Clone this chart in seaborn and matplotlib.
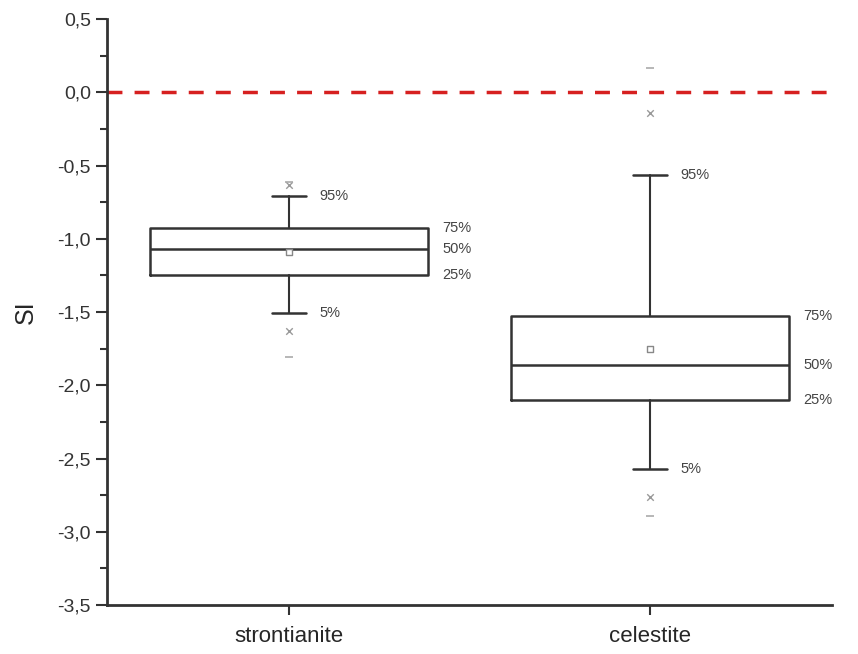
import seaborn as sns
import pandas as pd
import matplotlib.pyplot as plt

# Summary statistics (SI values)
minerals = ['strontianite', 'celestite']
p5 = [-1.51, -2.57]
p25 = [-1.25, -2.10]
p50 = [-1.07, -1.86]
p75 = [-0.925, -1.53]
p95 = [-0.71, -0.565]
means = [-1.09, -1.75]
p1 = [-1.63, -2.76]
p99 = [-0.63, -0.14]
mins = [-1.81, -2.89]
maxs = [-0.61, 0.165]

ytick_values = [0.5, 0.0, -0.5, -1.0, -1.5, -2.0, -2.5, -3.0, -3.5]
ytick_labels = ['0,5', '0,0', '-0,5', '-1,0', '-1,5', '-2,0', '-2,5', '-3,0', '-3,5']


def make_plot():
    sns.set_style("ticks")
    plt.rcParams['font.family'] = ['Liberation Sans', 'DejaVu Sans']

    fig = plt.figure(figsize=(8.58, 6.54), dpi=100)
    ax = fig.add_axes([0.1247, 0.0749, 0.845, 0.896])

    positions = list(range(len(minerals)))
    stats = []
    for i, name in enumerate(minerals):
        stats.append({'label': name, 'whislo': p5[i], 'q1': p25[i], 'med': p50[i],
                      'q3': p75[i], 'whishi': p95[i], 'mean': means[i], 'fliers': []})

    ax.bxp(stats, positions=positions, widths=0.77, showfliers=False, showmeans=False,
           boxprops=dict(color='#333333', linewidth=1.8),
           medianprops=dict(color='#333333', linewidth=1.8),
           whiskerprops=dict(color='#333333', linewidth=1.5),
           capprops=dict(color='#333333', linewidth=1.8),
           capwidths=0.095)

    df = pd.DataFrame({'x': positions, 'mean': means, 'p1': p1, 'p99': p99,
                       'min': mins, 'max': maxs})

    # mean squares
    sns.scatterplot(data=df, x='x', y='mean', marker='s', s=22, facecolor='white',
                    edgecolor='#888888', linewidth=1.0, ax=ax, zorder=5)
    # 1% / 99% crosses
    for col in ['p1', 'p99']:
        sns.scatterplot(data=df, x='x', y=col, marker='x', s=22, color='#999999',
                        linewidth=1.0, ax=ax, zorder=5)
    # min / max dashes
    for col in ['min', 'max']:
        sns.scatterplot(data=df, x='x', y=col, marker='_', s=30, color='#aaaaaa',
                        linewidth=1.2, ax=ax, zorder=5)

    # saturation line
    ax.axhline(0, color='#d62020', linestyle=(0, (4.3, 3.5)), linewidth=2.5, zorder=1)

    # percentile labels
    lab = dict(fontsize=10.5, color='#444444', va='center')
    for i in positions:
        ax.text(i + 0.085, p95[i], '95%', **lab)
        ax.text(i + 0.085, p5[i], '5%', **lab)
        ax.text(i + 0.425, p75[i], '75%', **lab)
        ax.text(i + 0.425, p50[i], '50%', **lab)
        ax.text(i + 0.425, p25[i], '25%', **lab)

    ax.set_xlim(-0.505, 1.505)
    ax.set_ylim(-3.5, 0.5)
    ax.set_xticks(positions)
    ax.set_xticklabels(minerals, fontsize=16)
    ax.set_yticks(ytick_values)
    ax.set_yticklabels(ytick_labels, fontsize=14, color='#333333')
    ax.set_yticks([v - 0.25 for v in ytick_values[:-1]], minor=True)
    ax.tick_params(axis='y', which='major', length=8, width=1.5, color='#333333')
    ax.tick_params(axis='y', which='minor', length=5, width=1.5, color='#333333')
    ax.tick_params(axis='x', length=7, width=1.5, color='#333333', pad=8)
    ax.set_xlabel('')
    ax.set_ylabel('SI', fontsize=18, labelpad=14)

    sns.despine(ax=ax)
    for side in ['left', 'bottom']:
        ax.spines[side].set_linewidth(2)
        ax.spines[side].set_color('#333333')

    fig.savefig('out.png', dpi=100)


if __name__ == "__main__":
    make_plot()
